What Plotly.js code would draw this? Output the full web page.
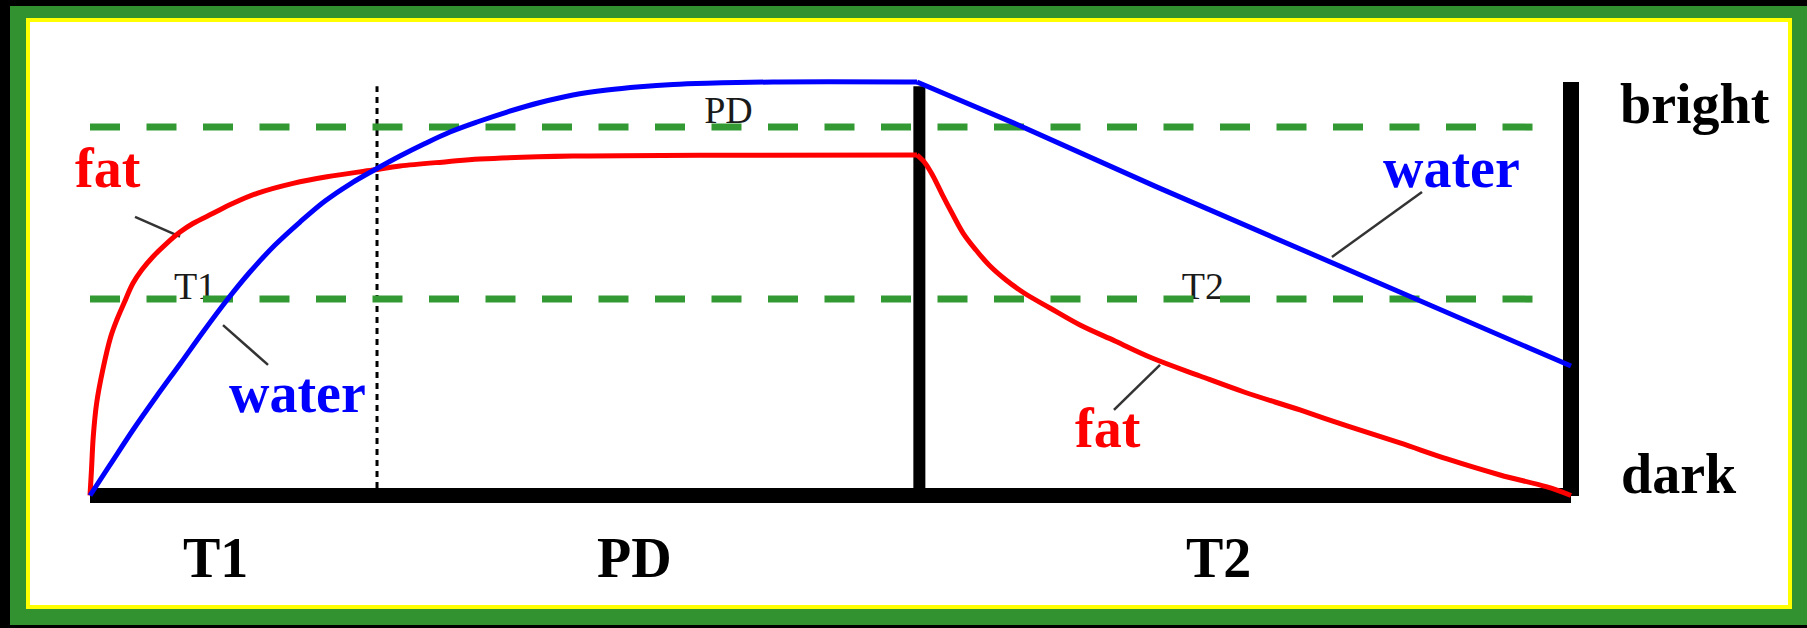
<!DOCTYPE html>
<html>
<head>
<meta charset="utf-8">
<script src="https://cdn.plot.ly/plotly-3.0.1.min.js"></script>
<style>
  html, body { margin: 0; padding: 0; background: #000; }
  #chart { width: 1807px; height: 628px; }
</style>
</head>
<body>
<div id="chart"></div>
<script>
// x = time (arbitrary units, 0 = start of T1 recovery, 100 = end of T2 decay)
// y = signal (0 = dark, 100 = bright)

// T1 recovery curves
const fatT1X   = [0, 0.10, 0.22, 0.45, 0.86, 1.40, 1.82, 2.30, 2.90, 3.49, 4.25, 5.18, 6.08, 6.95, 8.31, 9.66, 11.28, 13.71, 16.00, 19.11, 20.93, 24.11, 26.33, 32.61, 41.19, 55.84];
const fatT1Y   = [0, 6.17, 14.22, 22.37, 30.35, 38.40, 42.56, 46.55, 51.32, 54.53, 57.75, 60.99, 63.72, 65.78, 68.25, 70.66, 73.08, 75.50, 77.10, 78.72, 79.69, 80.73, 81.38, 82.10, 82.27, 82.35];
const waterT1X = [0, 1.35, 2.90, 4.46, 6.08, 7.63, 9.25, 10.80, 12.49, 14.18, 15.87, 17.56, 19.38, 20.93, 22.62, 24.31, 26.13, 28.16, 30.39, 32.61, 34.91, 37.14, 39.37, 41.66, 46.12, 55.84];
const waterT1Y = [0, 7.38, 15.84, 23.82, 31.80, 39.54, 47.28, 54.05, 60.58, 66.14, 71.22, 75.33, 79.08, 82.10, 85.13, 87.91, 90.33, 92.74, 95.04, 96.86, 98.07, 98.86, 99.40, 99.69, 100, 100];

// T2 decay curves
const fatT2X   = [55.84, 56.38, 56.92, 57.53, 58.20, 58.95, 59.82, 60.77, 61.85, 63.07, 64.82, 66.85, 69.21, 71.71, 74.95, 77.92, 81.70, 84.88, 88.45, 91.63, 95.21, 98.38, 100];
const fatT2Y   = [82.35, 80.41, 77.27, 72.91, 68.32, 63.48, 59.37, 55.50, 52.12, 48.97, 45.34, 41.23, 37.36, 33.25, 28.90, 25.03, 20.68, 16.81, 12.70, 8.83, 4.96, 2.06, 0];
const waterT2X = [55.84, 62.43, 71.98, 82.31, 91.63, 100];
const waterT2Y = [100, 90.0, 74.7, 58.6, 44.1, 31.3];

// reference levels (green dashed) and phase boundaries
const levelY      = [89.1, 47.5];
const levelXRange = [0, 98.5];
const pdStartX    = 19.38;   // dotted boundary between T1 and PD
const t2StartX    = 56.0;    // solid boundary between PD and T2
const endX        = 100;
const topY        = 100;

// leader lines [x0, y0, x1, y1]
const leaders = [
  [3.04, 67.4, 6.08, 62.6],     // fat (T1)
  [8.98, 41.2, 12.02, 31.6],    // water (T1)
  [69.14, 20.7, 72.25, 31.6],   // fat (T2)
  [83.86, 57.7, 89.94, 73.4]    // water (T2)
];

// labels
const bigLabels = [
  {text: 'fat',    x: 1.22,   y: 79.2,  color: '#ff0000'},
  {text: 'water',  x: 13.98,  y: 24.8,  color: '#0000ff'},
  {text: 'fat',    x: 68.77,  y: 16.3,  color: '#ff0000'},
  {text: 'water',  x: 91.90,  y: 79.2,  color: '#0000ff'},
  {text: 'bright', x: 108.37, y: 94.7,  color: '#000000'},
  {text: 'dark',   x: 107.29, y: 5.2,   color: '#000000'},
  {text: 'T1',     x: 8.44,   y: -15.1, color: '#000000'},
  {text: 'PD',     x: 36.77,  y: -15.1, color: '#000000'},
  {text: 'T2',     x: 76.23,  y: -15.1, color: '#000000'}
];
const smallLabelText = ['T1', 'PD', 'T2'];
const smallLabelX    = [7.09, 43.11, 75.15];
const smallLabelY    = [49.9, 92.5, 49.8];

const SERIF = '"Liberation Serif", "Times New Roman", Times, serif';

const traces = [];

// dotted T1/PD boundary
traces.push({
  x: [pdStartX, pdStartX], y: [1.8, 99.0], mode: 'lines',
  line: {color: '#000', width: 3, dash: '6px,5px'}, hoverinfo: 'skip'
});

// small phase labels (drawn below the dashed level lines)
traces.push({
  x: smallLabelX, y: smallLabelY, text: smallLabelText, mode: 'text',
  textposition: 'middle center',
  textfont: {family: SERIF, size: 38, color: '#1a1a1a'}, hoverinfo: 'skip'
});

// green dashed reference levels
levelY.forEach(function (ly) {
  traces.push({
    x: levelXRange, y: [ly, ly], mode: 'lines',
    line: {color: '#339933', width: 7, dash: '30px,26.5px'}, hoverinfo: 'skip'
  });
});

// thick black frame lines
traces.push({
  x: [0, endX], y: [0, 0], mode: 'lines',
  line: {color: '#000', width: 15}, hoverinfo: 'skip'
});
traces.push({
  x: [t2StartX, t2StartX], y: [99.0, 1.8], mode: 'lines',
  line: {color: '#000', width: 12}, hoverinfo: 'skip'
});
traces.push({
  x: [endX, endX], y: [topY, -0.1], mode: 'lines',
  line: {color: '#000', width: 16}, hoverinfo: 'skip'
});

// leader lines
leaders.forEach(function (l) {
  traces.push({
    x: [l[0], l[2]], y: [l[1], l[3]], mode: 'lines',
    line: {color: '#333', width: 2.5}, hoverinfo: 'skip'
  });
});

// curves
const curveLine = function (c) { return {color: c, width: 5, shape: 'spline', smoothing: 1}; };
traces.push({x: fatT1X, y: fatT1Y, mode: 'lines', line: curveLine('#ff0000'), hoverinfo: 'skip'});
traces.push({x: fatT2X, y: fatT2Y, mode: 'lines', line: curveLine('#ff0000'), hoverinfo: 'skip'});
traces.push({x: waterT1X, y: waterT1Y, mode: 'lines', line: curveLine('#0000ff'), hoverinfo: 'skip'});
traces.push({x: waterT2X, y: waterT2Y, mode: 'lines', line: {color: '#0000ff', width: 5}, hoverinfo: 'skip'});

const W = 1807, H = 628;
function px(v) { return v / W; }
function py(v) { return 1 - v / H; }

const shapes = [
  {type: 'rect', xref: 'paper', yref: 'paper', layer: 'below',
   x0: px(10), x1: px(1807), y0: py(625), y1: py(6),
   fillcolor: '#31922f', line: {width: 0}},
  {type: 'rect', xref: 'paper', yref: 'paper', layer: 'below',
   x0: px(26), x1: px(1792), y0: py(609), y1: py(18),
   fillcolor: '#ffff00', line: {width: 0}},
  {type: 'rect', xref: 'paper', yref: 'paper', layer: 'below',
   x0: px(30), x1: px(1788), y0: py(605), y1: py(22),
   fillcolor: '#ffffff', line: {width: 0}}
];

const annotations = bigLabels.map(function (b) {
  return {
    x: b.x, y: b.y, xref: 'x', yref: 'y', text: b.text, showarrow: false,
    xanchor: 'center', yanchor: 'middle',
    font: {family: SERIF, size: 56, color: b.color, weight: 'bold'}
  };
});

const layout = {
  width: W, height: H,
  margin: {l: 0, r: 0, t: 0, b: 0, pad: 0},
  paper_bgcolor: '#000000',
  plot_bgcolor: 'rgba(0,0,0,0)',
  showlegend: false,
  xaxis: {range: [-6.077, 115.935], visible: false, fixedrange: true},
  yaxis: {range: [-32.044, 119.831], visible: false, fixedrange: true},
  shapes: shapes,
  annotations: annotations
};

Plotly.newPlot('chart', traces, layout, {displayModeBar: false, staticPlot: true});
</script>
</body>
</html>
